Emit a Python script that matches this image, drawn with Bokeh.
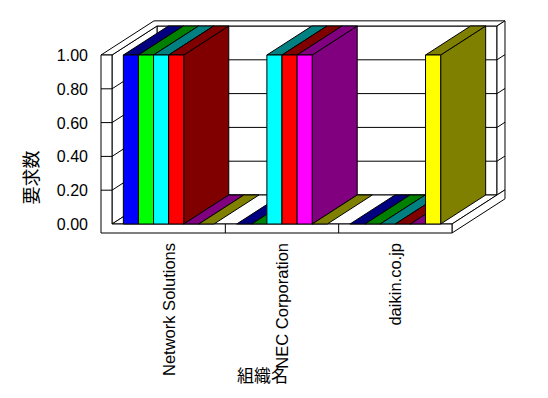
import math
from bokeh.plotting import figure
from bokeh.models import Range1d, FixedTicker, Label
from bokeh.embed import file_html
from bokeh.resources import INLINE

# ---- data ----
categories = ["Network Solutions", "NEC Corporation", "daikin.co.jp"]
blue_vals = [1, 0, 0]
lime_vals = [1, 0, 0]
cyan_vals = [1, 1, 0]
red_vals = [1, 1, 0]
magenta_vals = [0, 1, 0]
yellow_vals = [0, 0, 1]
series_values = [blue_vals, lime_vals, cyan_vals, red_vals, magenta_vals, yellow_vals]
face_colors = ["#0000FF", "#00FF00", "#00FFFF", "#FF0000", "#FF00FF", "#FFFF00"]
shade_colors = ["#000080", "#008000", "#008080", "#800000", "#800080", "#808000"]
y_ticks = [0.0, 0.2, 0.4, 0.6, 0.8, 1.0]
y_tick_labels = ["0.00", "0.20", "0.40", "0.60", "0.80", "1.00"]
y_title = "要求数"
x_title = "組織名"

# ---- layout / 3D geometry ----
W, H = 544, 394          # canvas size (px)
ORIGIN_X, ORIGIN_Y = 111.5, 223.5   # pixel position of (category 0, value 0) on the front plane
PXC = 113.33        # pixels per category
PXV = 169.0         # pixels per value unit
DX = 45 / PXC       # depth offset in x (data units)
DY = 29 / PXV       # depth offset in y (data units)
WALL = 11 / PXC     # left wall thickness
FLOOR = 9 / PXV     # floor thickness
BACK = 8 / 45       # back wall thickness (fraction of depth)
GROUP = 0.8
n_series = len(series_values)
n_cat = len(categories)
y_max = y_ticks[-1]


def P(x, y, d):
    return (x + d * DX, y + d * DY)


def poly(pts):
    return [q[0] for q in pts], [q[1] for q in pts]


p = figure(
    output_backend="svg", toolbar_location=None,
    frame_width=W, frame_height=H,
    min_border=0, min_border_left=0, min_border_right=0, min_border_top=0, min_border_bottom=0,
    x_range=Range1d(-ORIGIN_X / PXC, (W - ORIGIN_X) / PXC),
    y_range=Range1d((ORIGIN_Y - H) / PXV, ORIGIN_Y / PXV),
)
p.grid.visible = False
p.outline_line_color = None
p.background_fill_color = "white"
p.border_fill_color = "white"

# y axis (drawn at the front face of the left wall)
ya = p.yaxis[0]
ya.fixed_location = -WALL
ya.ticker = FixedTicker(ticks=y_ticks)
ya.major_label_overrides = {t: l for t, l in zip(y_ticks, y_tick_labels)}
ya.axis_line_color = None
ya.major_tick_line_color = None
ya.minor_tick_line_color = None
ya.major_tick_in = 0
ya.major_tick_out = 0
ya.major_label_standoff = 13
ya.major_label_text_font = "Liberation Sans"
ya.major_label_text_font_size = "16px"
ya.major_label_text_color = "black"

# x axis (drawn under the floor)
xa = p.xaxis[0]
centers = [c + 0.5 for c in range(n_cat)]
xa.fixed_location = -FLOOR
xa.ticker = FixedTicker(ticks=centers)
xa.major_label_overrides = {c: name for c, name in zip(centers, categories)}
xa.major_label_orientation = math.pi / 2
xa.axis_line_color = None
xa.major_tick_line_color = None
xa.minor_tick_line_color = None
xa.major_tick_in = 0
xa.major_tick_out = 0
xa.major_label_standoff = 10
xa.major_label_text_font = "Liberation Sans"
xa.major_label_text_font_size = "16.5px"
xa.major_label_text_color = "black"

LINE = dict(line_color="black", line_width=1)

# back wall inner face
bx, by = poly([P(0, 0, 1), P(n_cat, 0, 1), P(n_cat, y_max, 1), P(0, y_max, 1)])
p.patch(bx, by, fill_color="white", **LINE)
# left wall inner face
lx, ly = poly([P(0, 0, 0), P(0, 0, 1), P(0, y_max, 1), P(0, y_max, 0)])
p.patch(lx, ly, fill_color="white", **LINE)
# wall top face
tx, ty = poly([P(-WALL, y_max, 0), P(0, y_max, 0), P(0, y_max, 1), P(n_cat, y_max, 1),
               P(n_cat, y_max, 1 + BACK), P(-WALL, y_max, 1 + BACK)])
p.patch(tx, ty, fill_color="white", **LINE)
# back wall right side face
rx, ry = poly([P(n_cat, 0, 1), P(n_cat, 0, 1 + BACK), P(n_cat, y_max, 1 + BACK), P(n_cat, y_max, 1)])
p.patch(rx, ry, fill_color="white", **LINE)
# floor top face
fx, fy = poly([P(0, 0, 0), P(n_cat, 0, 0), P(n_cat, 0, 1), P(0, 0, 1)])
p.patch(fx, fy, fill_color="white", **LINE)
# floor right side face
sx, sy = poly([P(n_cat, -FLOOR, 0), P(n_cat, -FLOOR, 1 + BACK), P(n_cat, 0, 1 + BACK),
               P(n_cat, 0, 1), P(n_cat, 0, 0)])
p.patch(sx, sy, fill_color="white", **LINE)
# front L face (left wall + floor front)
ex, ey = poly([P(-WALL, -FLOOR, 0), P(n_cat, -FLOOR, 0), P(n_cat, 0, 0), P(0, 0, 0),
               P(0, y_max, 0), P(-WALL, y_max, 0)])
p.patch(ex, ey, fill_color="white", **LINE)

# grid lines
gxs, gys = [], []
for t in y_ticks[1:-1]:
    for a, b in [(P(0, t, 1), P(n_cat, t, 1)),            # back wall
                 (P(0, t, 0), P(0, t, 1)),                # left wall inner
                 (P(n_cat, t, 1), P(n_cat, t, 1 + BACK)), # back wall side
                 (P(-WALL, t, 0), P(0, t, 0))]:           # left wall front
        gxs.append([a[0], b[0]])
        gys.append([a[1], b[1]])
for c in range(1, n_cat):
    a, b = P(c, -FLOOR, 0), P(c, 0, 0)
    gxs.append([a[0], b[0]])
    gys.append([a[1], b[1]])
p.multi_line(gxs, gys, **LINE)

# bars (painted left to right: side, top, front)
xs, ys, fills = [], [], []
bw = GROUP / n_series
for c in range(n_cat):
    for i in range(n_series):
        h = series_values[i][c]
        x0 = c + (1 - GROUP) / 2 + i * bw
        x1 = x0 + bw
        if h > 0:
            qx, qy = poly([P(x1, 0, 0), P(x1, 0, 1), P(x1, h, 1), P(x1, h, 0)])
            xs.append(qx); ys.append(qy); fills.append(shade_colors[i])
        qx, qy = poly([P(x0, h, 0), P(x1, h, 0), P(x1, h, 1), P(x0, h, 1)])
        xs.append(qx); ys.append(qy); fills.append(shade_colors[i])
        if h > 0:
            qx, qy = poly([P(x0, 0, 0), P(x1, 0, 0), P(x1, h, 0), P(x0, h, 0)])
            xs.append(qx); ys.append(qy); fills.append(face_colors[i])
p.patches(xs, ys, fill_color=fills, **LINE)

# axis titles
p.add_layout(Label(x=(29 - ORIGIN_X) / PXC, y=(ORIGIN_Y - 177) / PXV, text=y_title,
                   angle=math.pi / 2, text_align="center", text_baseline="middle",
                   text_font="Noto Sans CJK JP", text_font_size="18px", text_color="black"))
p.add_layout(Label(x=(262 - ORIGIN_X) / PXC, y=(ORIGIN_Y - 374) / PXV, text=x_title,
                   text_align="center", text_baseline="middle",
                   text_font="Noto Sans CJK JP", text_font_size="17px", text_color="black"))

open("out.html", "w").write(file_html(p, INLINE))
